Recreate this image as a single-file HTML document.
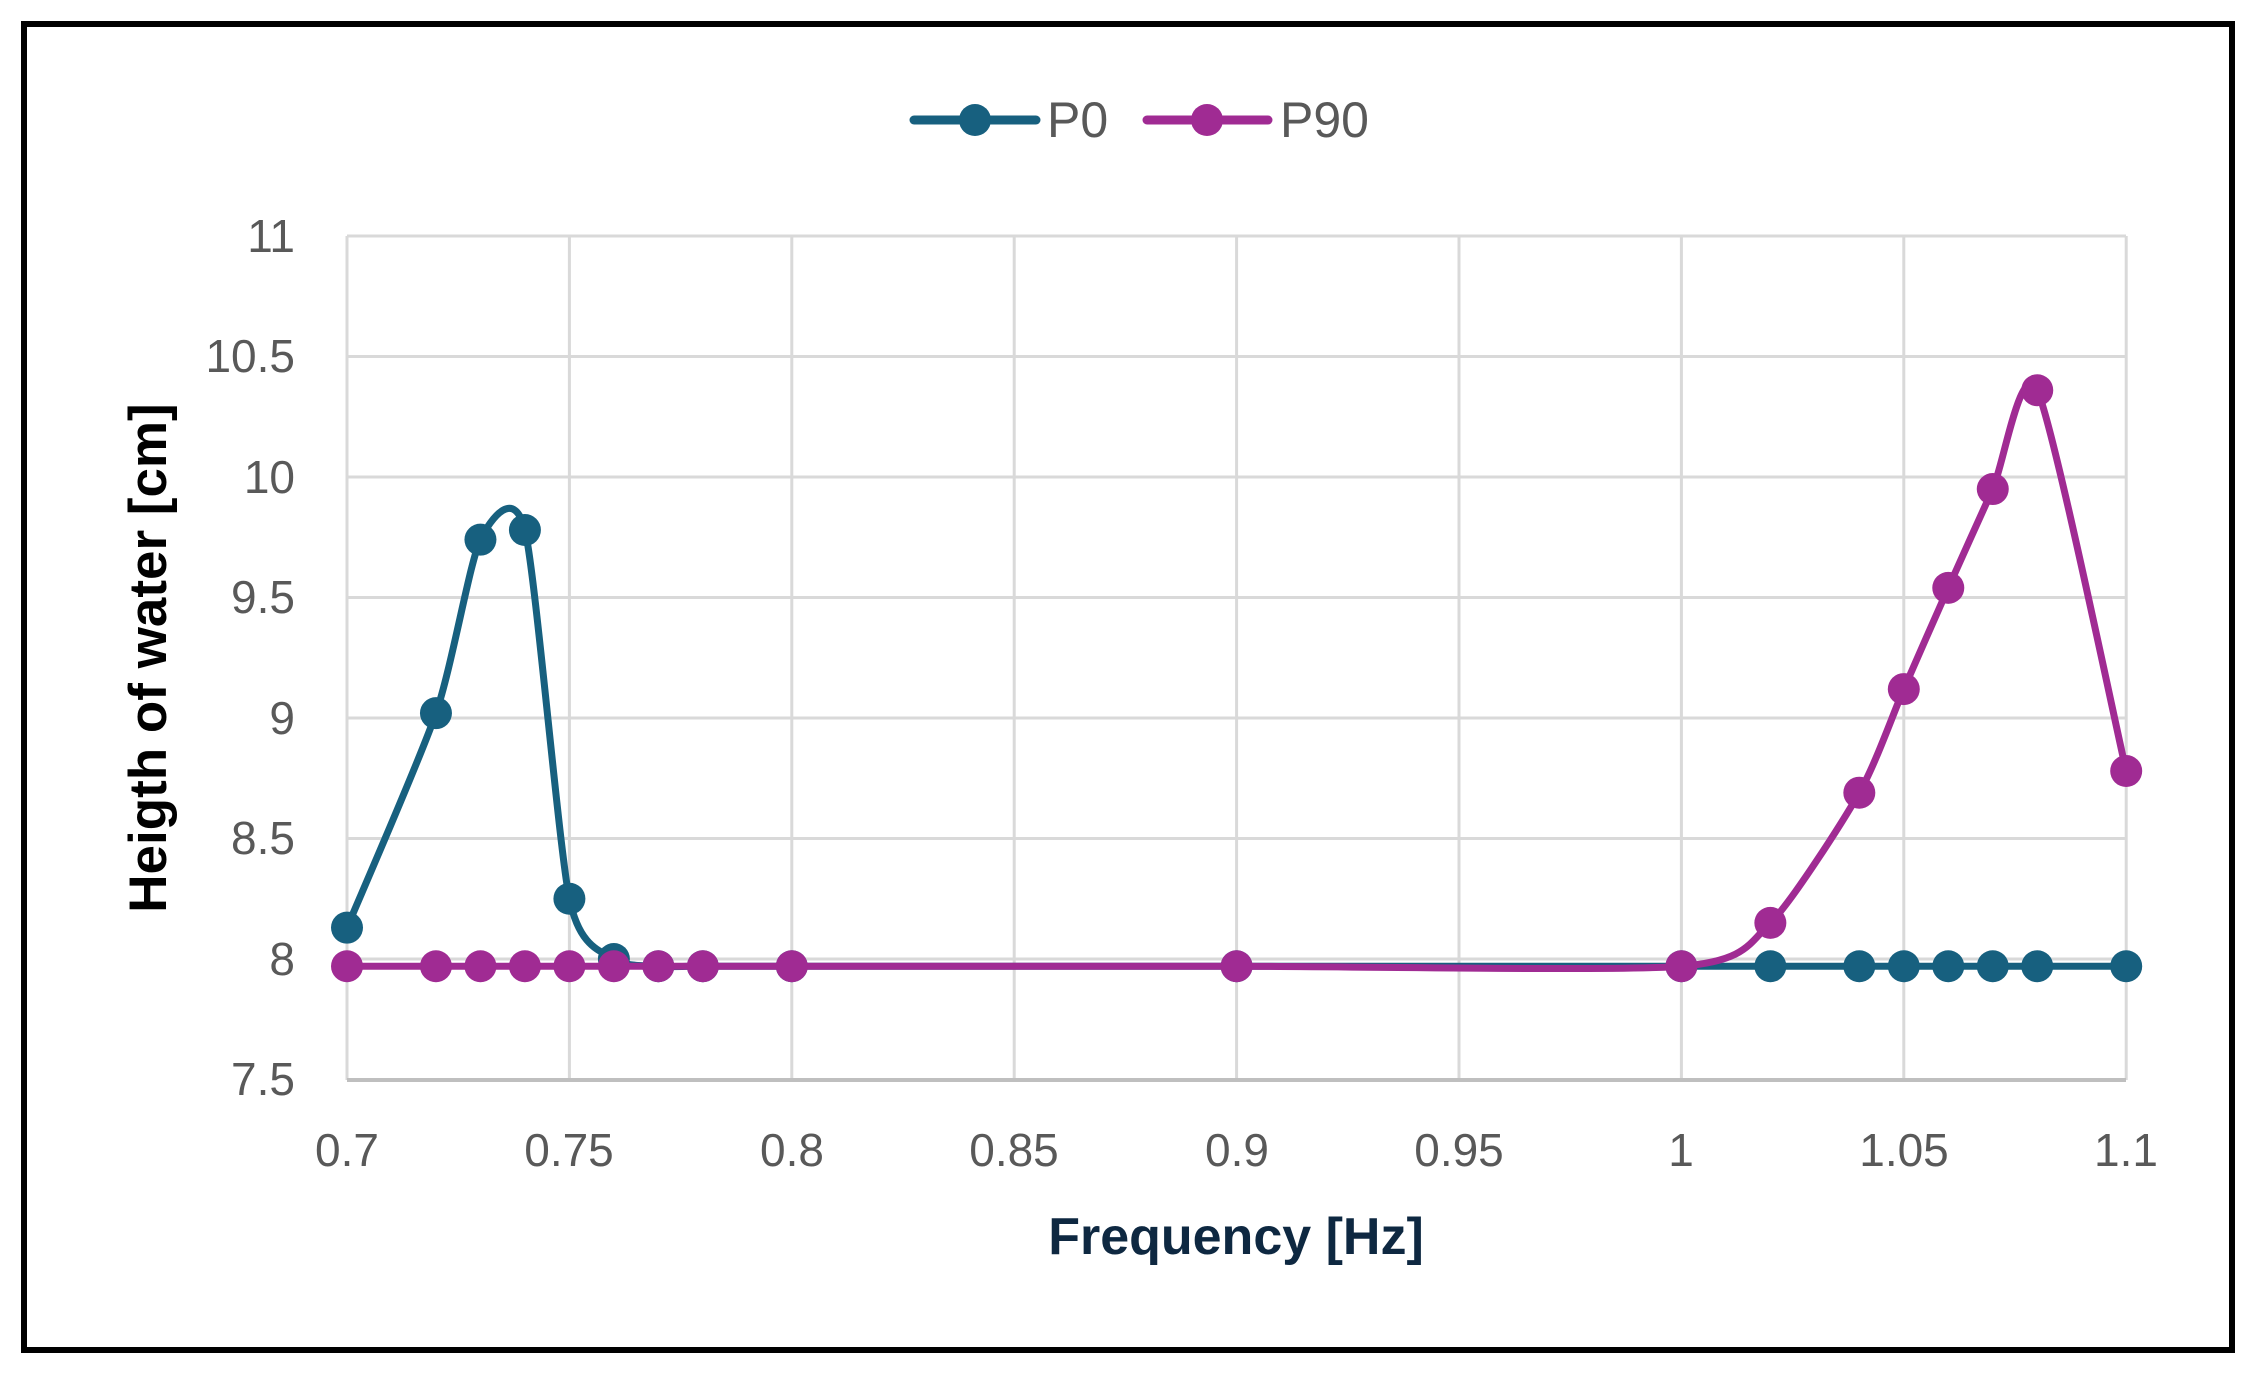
<!DOCTYPE html>
<html><head><meta charset="utf-8"><style>
html,body{margin:0;padding:0;background:#fff;}
svg{display:block;}
text{font-family:"Liberation Sans Narrow","Liberation Sans",sans-serif;}
</style></head><body>
<svg id="s" width="2253" height="1375" viewBox="0 0 2253 1375" xmlns="http://www.w3.org/2000/svg">
<rect x="0" y="0" width="2253" height="1375" fill="#fff"/>
<rect x="24" y="24" width="2208" height="1326" fill="none" stroke="#000" stroke-width="6"/>
<g id="grid" stroke="#d9d9d9" stroke-width="3"></g>
<line x1="347" y1="1080" x2="2126" y2="1080" stroke="#bfbfbf" stroke-width="4"/>
<g id="ylab" fill="#595959" font-size="46" text-anchor="end">
<text x="295" y="252">11</text><text x="295" y="372">10.5</text><text x="295" y="493">10</text>
<text x="295" y="613">9.5</text><text x="295" y="734">9</text><text x="295" y="854">8.5</text>
<text x="295" y="975">8</text><text x="295" y="1095">7.5</text>
</g>
<g fill="#595959" font-size="46" text-anchor="middle">
<text x="347" y="1166">0.7</text><text x="569" y="1166">0.75</text><text x="792" y="1166">0.8</text>
<text x="1014" y="1166">0.85</text><text x="1237" y="1166">0.9</text><text x="1459" y="1166">0.95</text>
<text x="1681" y="1166">1</text><text x="1904" y="1166">1.05</text><text x="2126" y="1166">1.1</text>
</g>
<text x="1236" y="1254" font-size="52" font-weight="bold" fill="#0e2841" text-anchor="middle" style="font-family:'Liberation Sans Narrow','Liberation Sans',sans-serif">Frequency [Hz]</text>
<text transform="translate(166,658) rotate(-90)" font-size="53" font-weight="bold" fill="#000" text-anchor="middle" style="font-family:'Liberation Sans',sans-serif">Heigth of water [cm]</text>
<g id="series"></g>
<line x1="914" y1="120" x2="1036" y2="120" stroke="#17607f" stroke-width="9" stroke-linecap="round"/>
<circle cx="975" cy="120" r="16" fill="#17607f"/>
<text x="1047" y="137" font-size="50" fill="#595959">P0</text>
<line x1="1147" y1="120" x2="1268" y2="120" stroke="#a02b93" stroke-width="9" stroke-linecap="round"/>
<circle cx="1207" cy="120" r="16" fill="#a02b93"/>
<text x="1280" y="137" font-size="50" fill="#595959">P90</text>
</svg>
<script>
(function(){
var NS="http://www.w3.org/2000/svg";
function X(f){return 347+(f-0.7)/0.05*222.4;}
function Y(v){return 236+(11-v)/0.5*120.5;}
var g=document.getElementById('grid');
for(var i=0;i<=8;i++){var x=347+i*222.4;var l=document.createElementNS(NS,'line');l.setAttribute('x1',x);l.setAttribute('x2',x);l.setAttribute('y1',236);l.setAttribute('y2',1080);g.appendChild(l);}
for(var j=0;j<7;j++){var y=236+j*120.5;var l=document.createElementNS(NS,'line');l.setAttribute('x1',347);l.setAttribute('x2',2126);l.setAttribute('y1',y);l.setAttribute('y2',y);g.appendChild(l);}
var b=7.97;
var P0=[[0.70,8.13],[0.72,9.02],[0.73,9.74],[0.74,9.78],[0.75,8.25],[0.76,8.0],[0.77,b],[0.78,b],[0.8,b],[0.9,b],[1.0,b],[1.02,b],[1.04,b],[1.05,b],[1.06,b],[1.07,b],[1.08,b],[1.1,b]];
var P90=[[0.70,b],[0.72,b],[0.73,b],[0.74,b],[0.75,b],[0.76,b],[0.77,b],[0.78,b],[0.8,b],[0.9,b],[1.0,b],[1.02,8.15],[1.04,8.69],[1.05,9.12],[1.06,9.54],[1.07,9.95],[1.08,10.36],[1.1,8.78]];
function path(d){
 var p=d.map(function(a){return [X(a[0]),Y(a[1])];});
 var s="M"+p[0][0]+","+p[0][1];
 for(var i=0;i<p.length-1;i++){
  var p0=p[i>0?i-1:i],p1=p[i],p2=p[i+1],p3=p[i+2<p.length?i+2:i+1];
  var k=0.12;
  var c1=[p1[0]+(p2[0]-p0[0])*k,p1[1]+(p2[1]-p0[1])*k];
  var c2=[p2[0]-(p3[0]-p1[0])*k,p2[1]-(p3[1]-p1[1])*k];
  s+=" C"+c1[0]+","+c1[1]+" "+c2[0]+","+c2[1]+" "+p2[0]+","+p2[1];
 }
 return {s:s,p:p};
}
var ser=document.getElementById('series');
function draw(d,col){
 var r=path(d);var e=document.createElementNS(NS,'path');
 e.setAttribute('d',r.s);e.setAttribute('fill','none');e.setAttribute('stroke',col);e.setAttribute('stroke-width','7');e.setAttribute('stroke-linejoin','round');ser.appendChild(e);
 r.p.forEach(function(q){var c=document.createElementNS(NS,'circle');c.setAttribute('cx',q[0]);c.setAttribute('cy',q[1]);c.setAttribute('r',16);c.setAttribute('fill',col);ser.appendChild(c);});
}
draw(P0,'#17607f');
draw(P90,'#a02b93');
})();
</script>
</body></html>
